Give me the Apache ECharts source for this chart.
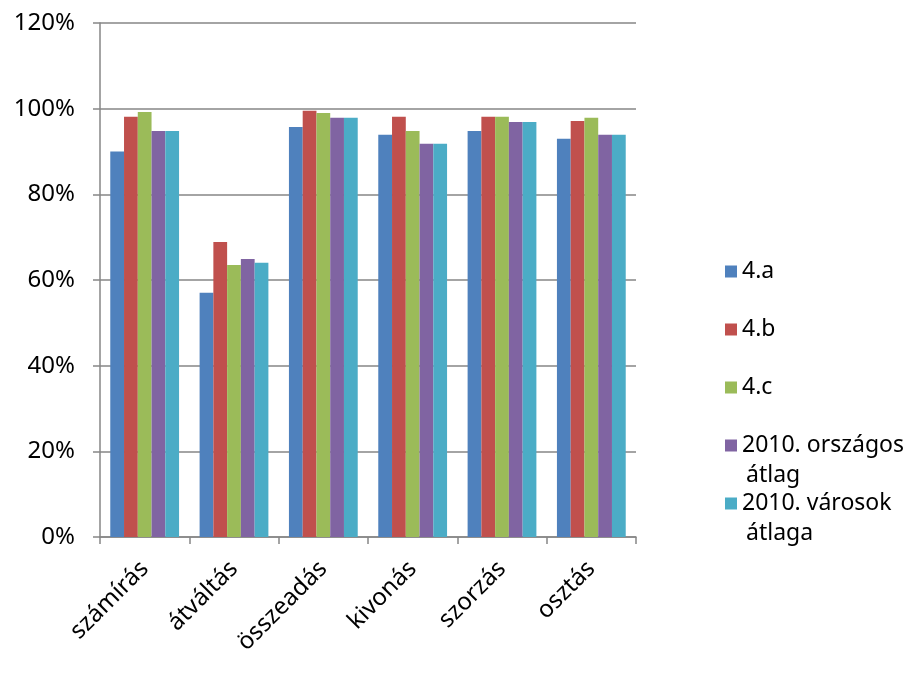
<!DOCTYPE html>
<html><head><meta charset="utf-8">
<script src="https://cdn.jsdelivr.net/npm/echarts@6/dist/echarts.min.js"></script>
<style>html,body{margin:0;padding:0;background:#fff}#c{width:918px;height:677px}</style>
</head><body><div id="c"></div>
<script>
const categories = ['számírás','átváltás','összeadás','kivonás','szorzás','osztás'];
const s4a = [90, 57, 95.7, 93.9, 94.8, 93.0];
const s4b = [98.1, 68.9, 99.5, 98.1, 98.1, 97.1];
const s4c = [99.2, 63.5, 99.0, 94.8, 98.1, 97.9];
const sOrsz = [94.8, 64.9, 97.9, 91.8, 96.9, 93.9];
const sVar = [94.8, 64.0, 97.9, 91.8, 96.9, 93.9];
const seriesNames = ['4.a','4.b','4.c','2010. országos','2010. városok'];
const nameContinuation = ['', '', '', 'átlag', 'átlaga'];
const yTicks = [0, 20, 40, 60, 80, 100, 120];

const colors = ['#4F81BD','#C0504D','#9BBB59','#8064A2','#4BACC6'];
const values = [s4a, s4b, s4c, sOrsz, sVar];
const FONT = 'Noto Sans';
const legendTops = [255, 313, 371, 429, 487];

const chart = echarts.init(document.getElementById('c'));
const legends = seriesNames.map((n, i) => ({
  data: [n], left: 720, top: legendTops[i], orient: 'vertical',
  icon: 'rect', itemWidth: 12, itemHeight: 12, itemGap: 10,
  textStyle: {fontFamily: FONT, fontSize: 23, color: '#000'},
  selectedMode: false
}));
const graphics = [];
nameContinuation.forEach((t, i) => {
  if (t) graphics.push({type: 'text', left: 746, top: legendTops[i] + 35,
    style: {text: t, fontFamily: FONT, fontSize: 23, fill: '#000'}});
});
chart.setOption({
  animation: false,
  color: colors,
  grid: {left: 100, right: 282, top: 23, bottom: 140, containLabel: false},
  legend: legends,
  graphic: graphics,
  xAxis: {
    type: 'category', data: categories,
    axisLine: {lineStyle: {color: '#868686', width: 1.5}},
    axisTick: {show: true, length: 7, lineStyle: {color: '#868686', width: 1.5}},
    axisLabel: {rotate: 45, fontFamily: FONT, fontSize: 24, color: '#000', margin: 28, interval: 0}
  },
  yAxis: {
    type: 'value', min: yTicks[0], max: yTicks[yTicks.length-1], interval: 20,
    axisLine: {show: true, lineStyle: {color: '#868686', width: 1.5}},
    axisTick: {show: true, length: 7, lineStyle: {color: '#868686', width: 1.5}},
    splitLine: {lineStyle: {color: '#868686', width: 1.5}},
    axisLabel: {formatter: '{value}%', fontFamily: FONT, fontSize: 24, color: '#000', margin: 25}
  },
  series: seriesNames.map((n, i) => ({
    name: n, type: 'bar', data: values[i], barGap: '0%', barCategoryGap: '23%'
  }))
});
</script></body></html>
